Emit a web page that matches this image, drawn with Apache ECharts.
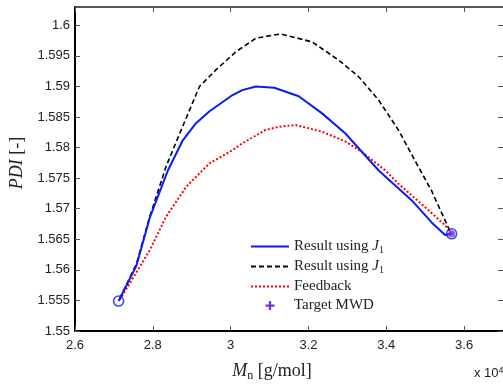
<!DOCTYPE html>
<html>
<head>
<meta charset="utf-8">
<script src="https://cdn.jsdelivr.net/npm/echarts@6/dist/echarts.min.js"></script>
<style>html,body{margin:0;padding:0;background:#fff}#c{width:503px;height:387px}</style>
</head>
<body>
<div id="c"></div>
<script>
// x values in units of 10^4 g/mol
var resultJ1 = [[2.712,1.5549],[2.758,1.5607],[2.792,1.5685],[2.839,1.5763],[2.877,1.5812],[2.911,1.5840],[2.945,1.5859],[3.005,1.5886],[3.030,1.5894],[3.065,1.5900],[3.112,1.5898],[3.175,1.5884],[3.235,1.5856],[3.295,1.5823],[3.329,1.5799],[3.380,1.5763],[3.406,1.5748],[3.465,1.5714],[3.516,1.5678],[3.551,1.5657],[3.568,1.5659]];
var resultJ1b = [[2.715,1.5553],[2.758,1.5610],[2.792,1.5687],[2.834,1.5769],[2.869,1.5823],[2.920,1.5900],[2.962,1.5927],[3.014,1.5957],[3.065,1.5979],[3.129,1.5986],[3.209,1.5973],[3.278,1.5943],[3.329,1.5916],[3.380,1.5878],[3.431,1.5829],[3.482,1.5769],[3.516,1.5730],[3.559,1.5670],[3.568,1.5659]];
var feedback = [[2.715,1.5551],[2.792,1.5632],[2.834,1.5687],[2.886,1.5736],[2.945,1.5774],[3.005,1.5796],[3.030,1.5807],[3.090,1.5829],[3.124,1.5834],[3.167,1.5837],[3.235,1.5826],[3.295,1.5810],[3.337,1.5793],[3.397,1.5763],[3.431,1.5741],[3.499,1.5703],[3.551,1.5673],[3.568,1.5659]];
var targetMWD = [[3.568,1.5659]];
var endpoints = [[2.712,1.5549],[3.568,1.5659]];
var xTicks = [2.6,2.8,3.0,3.2,3.4,3.6];
var yTicks = [1.55,1.555,1.56,1.565,1.57,1.575,1.58,1.585,1.59,1.595,1.6];

var chart = echarts.init(document.getElementById('c'));
var serif = '"Liberation Serif","Times New Roman",serif';
var sans = '"Liberation Sans",Arial,sans-serif';
var plus = 'path://M3,0H5V3H8V5H5V8H3V5H0V3H3Z';
function isTick(list, v){ for (var i=0;i<list.length;i++){ if (Math.abs(list[i]-v)<1e-9) return true; } return false; }

var xBase = {type: 'value', min: 2.6, max: 3.7, interval: 0.1, splitLine: {show: false}};
var yBase = {type: 'value', min: 1.55, max: 1.603, interval: 0.005, splitLine: {show: false}};

chart.setOption({
  animation: false,
  backgroundColor: '#fff',
  grid: {left: 75, width: 430, top: 7, bottom: 56, show: false, containLabel: false},
  xAxis: [Object.assign({}, xBase, {
    position: 'bottom',
    axisLine: {show: true, lineStyle: {color: '#000', width: 2}},
    axisTick: {show: true, inside: true, length: 5, lineStyle: {color: '#555', width: 1},
      customValues: xTicks},
    axisLabel: {show: true, margin: 8, color: '#222', fontFamily: sans, fontSize: 13,
      customValues: xTicks,
      formatter: function(v){ return isTick(xTicks, v) ? String(+v.toFixed(1)) : ''; }},
    name: '{i|M}{s|n} [g/mol]',
    nameLocation: 'middle', nameGap: 30,
    nameTextStyle: {fontFamily: serif, fontSize: 18, color: '#222', padding: [0, 34, 0, 0],
      rich: {i: {fontFamily: serif, fontStyle: 'italic', fontSize: 18, color: '#222'},
             s: {fontFamily: serif, fontSize: 12, color: '#222', verticalAlign: 'bottom', padding: [9,0,0,0]}}}
  }), Object.assign({}, xBase, {
    position: 'top',
    axisLine: {show: true, lineStyle: {color: '#222', width: 1.5}},
    axisTick: {show: true, inside: true, length: 5, lineStyle: {color: '#555', width: 1},
      customValues: xTicks},
    axisLabel: {show: false}
  })],
  yAxis: [Object.assign({}, yBase, {
    position: 'left',
    axisLine: {show: true, lineStyle: {color: '#000', width: 2}},
    axisTick: {show: true, inside: true, length: 5, lineStyle: {color: '#555', width: 1},
      customValues: yTicks},
    axisLabel: {show: true, margin: 5, color: '#222', fontFamily: sans, fontSize: 13,
      customValues: yTicks,
      formatter: function(v){ return isTick(yTicks, v) ? String(+v.toFixed(3)) : ''; }},
    name: '{i|PDI} [-]',
    nameLocation: 'middle', nameGap: 48, nameRotate: 90,
    nameTextStyle: {fontFamily: serif, fontSize: 18, color: '#222', padding: [0, 0, 0, 12],
      rich: {i: {fontFamily: serif, fontStyle: 'italic', fontSize: 18, color: '#222'}}}
  }), Object.assign({}, yBase, {
    position: 'right',
    axisLine: {show: false},
    axisTick: {show: true, inside: true, length: 5, lineStyle: {color: '#555', width: 1},
      customValues: yTicks},
    axisLabel: {show: false}
  })],
  legend: {
    left: 250, top: 239, orient: 'vertical', padding: 0,
    itemWidth: 38, itemHeight: 9, itemGap: 4,
    itemStyle: {opacity: 0},
    textStyle: {fontFamily: serif, fontSize: 15, color: '#222',
      rich: {i: {fontFamily: serif, fontStyle: 'italic', fontSize: 15, color: '#222'},
             s: {fontFamily: serif, fontSize: 10, color: '#222', verticalAlign: 'bottom', padding: [7,0,0,0]}}},
    formatter: function(n){ return n.indexOf('Result') === 0 ? 'Result using {i|J}{s|1}' : n; },
    data: [
      {name: 'Result using J1'},
      {name: 'Result using J1 '},
      {name: 'Feedback'},
      {name: 'Target MWD', icon: plus, itemStyle: {opacity: 1, color: '#7a2fd8'}}
    ]
  },
  graphic: [{
    type: 'text', left: 474, top: 366,
    style: {text: 'x 10{s|4}', fontFamily: sans, fontSize: 13, fill: '#222',
      rich: {s: {fontFamily: sans, fontSize: 9, fill: '#222', verticalAlign: 'top', padding: [0,0,6,0]}}}
  }],
  series: [
    {name: 'Result using J1', type: 'line', data: resultJ1, symbol: 'none', smooth: false,
     lineStyle: {color: '#0a1cf5', width: 2}, itemStyle: {color: '#0a1cf5'}, z: 4},
    {name: 'Result using J1 ', type: 'line', data: resultJ1b, symbol: 'none',
     lineStyle: {color: '#000', width: 1.6, type: [5,3]}, itemStyle: {color: '#000'}, z: 3},
    {name: 'Feedback', type: 'line', data: feedback, symbol: 'none',
     lineStyle: {color: '#ff0000', width: 2, type: [2,2]}, itemStyle: {color: '#ff0000'}, z: 3},
    {name: 'Target MWD', type: 'scatter', data: targetMWD, symbol: 'circle', symbolSize: 7,
     itemStyle: {color: '#7a2fd8'}, z: 5},
    {name: 'ends', type: 'scatter', data: endpoints, symbol: 'circle', symbolSize: 10,
     itemStyle: {color: 'rgba(0,0,0,0)', borderColor: '#0a1cf5', borderWidth: 1.6}, z: 6}
  ]
});
</script>
</body>
</html>
